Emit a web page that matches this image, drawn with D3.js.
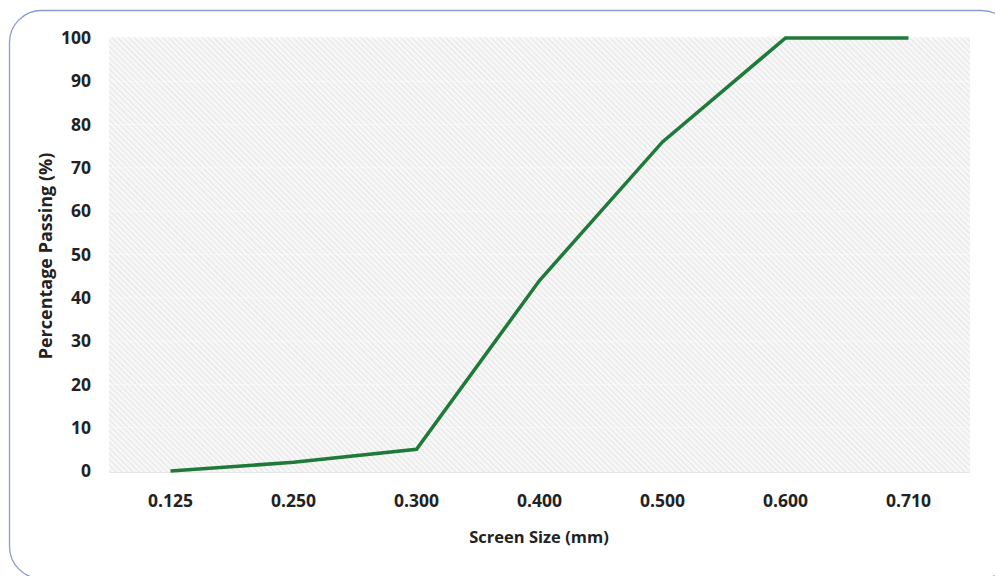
<!DOCTYPE html>
<html><head><meta charset="utf-8">
<script src="https://cdn.jsdelivr.net/npm/d3@7"></script>
<style>body{margin:0;background:#fff}svg{display:block}</style>
</head><body>
<script>
const categories = ["0.125","0.250","0.300","0.400","0.500","0.600","0.710"];
const passing = [0, 2, 5, 44, 76, 100, 100];
const yTicks = [0,10,20,30,40,50,60,70,80,90,100];
const xTitle = "Screen Size (mm)";
const yTitle = "Percentage Passing (%)";

const W = 995, H = 576;
const m = {left:109, right:25, top:38, bottom:105};
const svg = d3.select("body").append("svg").attr("width",W).attr("height",H);
const defs = svg.append("defs");
const pat = defs.append("pattern").attr("id","hatch").attr("patternUnits","userSpaceOnUse")
  .attr("width",4).attr("height",4).attr("patternTransform","rotate(-45)");
pat.append("rect").attr("width",4).attr("height",4).attr("fill","#f7f7f7");
pat.append("line").attr("x1",0).attr("y1",0).attr("x2",0).attr("y2",4).attr("stroke","#dfdfdf").attr("stroke-width",1.5);

svg.append("rect").attr("x",9.5).attr("y",10.5).attr("width",1004).attr("height",568).attr("rx",32)
  .attr("fill","#fff").attr("stroke","#8e9bd3").attr("stroke-width",1.3);

const x = d3.scaleBand().domain(categories).range([m.left, W - m.right]);
const y = d3.scaleLinear().domain([0,100]).range([471, m.top]);
const font = "'Open Sans', sans-serif";

svg.append("rect").attr("x",m.left).attr("y",y(100)-1).attr("width",W-m.right-m.left).attr("height",y(0)-y(100)+2)
  .attr("fill","url(#hatch)");
svg.append("g").selectAll("line").data(yTicks.slice(1)).join("line")
  .attr("x1",m.left).attr("x2",W-m.right).attr("y1",d=>y(d)).attr("y2",d=>y(d))
  .attr("stroke","#ffffff").attr("stroke-opacity",0.45).attr("stroke-width",1);
svg.append("line").attr("x1",m.left).attr("x2",W-m.right).attr("y1",y(0)+1.5).attr("y2",y(0)+1.5)
  .attr("stroke","#e6e6e6").attr("stroke-width",1);

const yAxis = svg.append("g").attr("transform",`translate(${m.left},0)`)
  .call(d3.axisLeft(y).tickValues(yTicks).tickSize(0).tickPadding(18));
yAxis.select(".domain").remove();
yAxis.selectAll("text").attr("font-family",font).attr("font-weight",700).attr("font-size",17.5)
  .attr("fill","#222");

const xAxis = svg.append("g").attr("transform",`translate(0,${y(0)})`)
  .call(d3.axisBottom(x).tickSize(0).tickPadding(24));
xAxis.select(".domain").remove();
xAxis.selectAll("text").attr("font-family",font).attr("font-weight",700).attr("font-size",17.5)
  .attr("fill","#222");

const line = d3.line().x((d,i)=>x(categories[i])+x.bandwidth()/2).y(d=>y(d));
svg.append("path").datum(passing).attr("d",line).attr("fill","none")
  .attr("stroke","#1f7a3a").attr("stroke-width",3.5).attr("stroke-linejoin","miter");

svg.append("text").attr("x",539).attr("y",543).attr("text-anchor","middle")
  .attr("font-family",font).attr("font-weight",700).attr("font-size",16.5)
  .attr("fill","#222").text(xTitle);
svg.append("text").attr("transform",`translate(52,256) rotate(-90)`).attr("text-anchor","middle")
  .attr("font-family",font).attr("font-weight",700).attr("font-size",18)
  .attr("fill","#222").text(yTitle);
</script>
</body></html>
